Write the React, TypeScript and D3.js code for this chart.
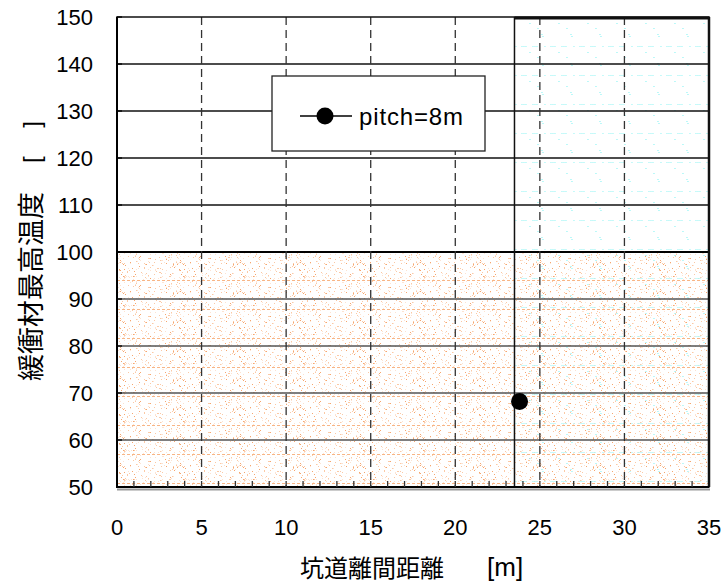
import React from "react";
import * as d3 from "d3";

// Series: buffer maximum temperature vs. tunnel spacing
const seriesName = "pitch=8m";
const spacing = [23.8];
const maxTemp = [68.2];

// Axis ticks
const xTicks = [0, 5, 10, 15, 20, 25, 30, 35];
const yTicks = [50, 60, 70, 80, 90, 100, 110, 120, 130, 140, 150];
const xMinorTicks = d3.range(1, 35, 1);

// Shaded regions: temperature limit band and admissible spacing band
const limitTemp = 100;
const spacingLimit = 23.5;

const W = 727;
const H = 583;

// deterministic hash for texture dot placement
function hash(n: number) {
  const s = Math.sin(n * 127.1 + 311.7) * 43758.5453;
  return s - Math.floor(s);
}

const orangeDots = d3.range(170).map((i) => ({
  x: Math.floor(hash(i) * 60),
  y: Math.floor(hash(i + 1000) * 29),
  tone: hash(i + 2000),
}));

const cyanDots = d3.range(4).map((i) => ({
  x: Math.floor(hash(i + 3000) * 29),
  y: 5 + Math.floor(hash(i + 4000) * 20),
}));

export default function App() {
  const x = d3.scaleLinear().domain([0, 35]).range([117, 709]);
  const y = d3.scaleLinear().domain([50, 150]).range([487, 17]);

  const [x0, x1] = x.range();
  const [yb, yt] = y.range();

  return (
    <svg
      width={W}
      height={H}
      style={{ position: "absolute", left: 0, top: 0, background: "#fff" }}
      fontFamily="'Liberation Sans', Arial, sans-serif"
    >
      <defs>
        <pattern
          id="orangeTex"
          patternUnits="userSpaceOnUse"
          width={60}
          height={29}
          x={x0}
          y={y(limitTemp)}
        >
          {orangeDots.map((d, i) => (
            <rect
              key={i}
              x={d.x}
              y={d.y}
              width={1}
              height={1}
              fill={d.tone > 0.8 ? "#f6a66e" : d.tone > 0.45 ? "#fbc9a5" : "#fde3d1"}
            />
          ))}
          {d3.range(0, 60, 5).map((v) => (
            <rect key={"l" + v} x={v} y={28} width={3} height={1} fill="#f8b585" />
          ))}
        </pattern>
        <pattern
          id="cyanTex"
          patternUnits="userSpaceOnUse"
          width={29}
          height={29}
          x={x(spacingLimit)}
          y={yt}
        >
          {cyanDots.map((d, i) => (
            <rect key={i} x={d.x} y={d.y} width={1} height={1} fill="#7af2f2" />
          ))}
          <rect x={1} y={0} width={1} height={1} fill="#8ff4f4" />
          <rect x={7} y={0} width={1} height={1} fill="#8ff4f4" />
          <rect x={9} y={0} width={1} height={1} fill="#8ff4f4" />
          <rect x={11} y={0} width={1} height={1} fill="#8ff4f4" />
          <rect x={18} y={0} width={1} height={1} fill="#8ff4f4" />
          <rect x={20} y={0} width={1} height={1} fill="#8ff4f4" />
          <rect x={22} y={0} width={1} height={1} fill="#8ff4f4" />
        </pattern>
      </defs>

      {/* regions */}
      <rect
        x={x0}
        y={y(limitTemp)}
        width={x1 - x0}
        height={yb - y(limitTemp)}
        fill="url(#orangeTex)"
      />
      <rect
        x={x(spacingLimit)}
        y={yt}
        width={x1 - x(spacingLimit)}
        height={yb - yt}
        fill="url(#cyanTex)"
      />

      {/* horizontal gridlines */}
      {yTicks.slice(1, -1).map((t) => (
        <line
          key={t}
          x1={x0}
          x2={x1}
          y1={y(t)}
          y2={y(t)}
          stroke={t === limitTemp ? "#000" : t < limitTemp ? "#555" : "#111"}
          strokeWidth={t === limitTemp ? 2 : 1.3}
        />
      ))}

      {/* vertical dashed gridlines */}
      {xTicks.slice(1, -1).map((t) => (
        <line
          key={t}
          x1={x(t)}
          x2={x(t)}
          y1={yt}
          y2={yb}
          stroke="#333"
          strokeWidth={1.3}
          strokeDasharray="8,5"
        />
      ))}

      {/* spacing limit boundary */}
      <line
        x1={x(spacingLimit)}
        x2={x(spacingLimit)}
        y1={yt}
        y2={yb}
        stroke="#111"
        strokeWidth={1.5}
      />
      <line
        x1={x(spacingLimit)}
        x2={x1}
        y1={yt + 1}
        y2={yt + 1}
        stroke="#111"
        strokeWidth={3}
      />

      {/* frame */}
      <rect
        x={x0}
        y={yt}
        width={x1 - x0}
        height={yb - yt}
        fill="none"
        stroke="#111"
        strokeWidth={1.5}
      />
      <line x1={x1} x2={x1} y1={yt} y2={yb} stroke="#111" strokeWidth={2.5} />
      <line x1={x0} x2={x0} y1={yt} y2={yb + 1} stroke="#000" strokeWidth={2} />
      <line x1={x0} x2={x1 + 1} y1={yb + 2.5} y2={yb + 2.5} stroke="#999" strokeWidth={2} />
      <line x1={x0} x2={x1} y1={yb} y2={yb} stroke="#000" strokeWidth={2} />

      {/* y ticks */}
      {yTicks.map((t) => (
        <g key={t}>
          <line x1={x0} x2={x0 + 5} y1={y(t)} y2={y(t)} stroke="#000" strokeWidth={1.3} />
          <text
            x={93}
            y={y(t)}
            dy="0.36em"
            textAnchor="end"
            fontSize={22}
            fill="#000"
          >
            {t}
          </text>
        </g>
      ))}

      {/* x ticks */}
      {xMinorTicks.map((t) => (
        <line
          key={t}
          x1={x(t)}
          x2={x(t)}
          y1={yb}
          y2={yb - 6}
          stroke="#333"
          strokeWidth={1.3}
        />
      ))}
      {xTicks.map((t) => (
        <text
          key={t}
          x={x(t)}
          y={535}
          textAnchor="middle"
          fontSize={22}
          fill="#000"
        >
          {t}
        </text>
      ))}

      {/* data */}
      {spacing.map((s, i) => (
        <circle key={i} cx={x(s)} cy={y(maxTemp[i])} r={8.5} fill="#000" />
      ))}

      {/* legend */}
      <g>
        <rect x={272} y={76} width={213} height={75} fill="#fff" stroke="#222" strokeWidth={1.3} />
        <line x1={300} x2={352} y1={116} y2={116} stroke="#000" strokeWidth={1.5} />
        <circle cx={325} cy={116} r={8.5} fill="#000" />
        <text
          x={359}
          y={116}
          dy="0.36em"
          fontSize={24}
          textLength={104}
          lengthAdjust="spacing"
          fill="#000"
        >
          {seriesName}
        </text>
      </g>

      {/* axis titles */}
      <g fill="#000">
        <text x={300} y={577} fontSize={24} fontFamily="'Noto Sans CJK JP', sans-serif">
          坑道離間距離
        </text>
        <text x={487} y={576} fontSize={26}>
          [m]
        </text>
        <text
          transform="translate(41,381) rotate(-90)"
          fontSize={27}
          fontFamily="'Noto Sans CJK JP', sans-serif"
        >
          緩衝材最高温度
        </text>
        <text
          transform="translate(40,163) rotate(-90)"
          fontSize={24}
          textLength={42}
          lengthAdjust="spacing"
        >
          [ ]
        </text>
      </g>
    </svg>
  );
}
